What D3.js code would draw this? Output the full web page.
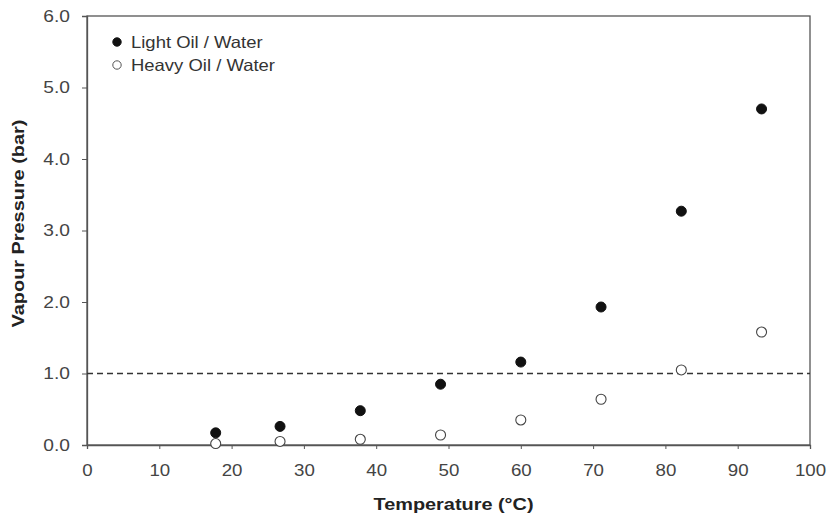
<!DOCTYPE html>
<html><head><meta charset="utf-8">
<script src="https://cdn.jsdelivr.net/npm/d3@7"></script>
<style>body{margin:0;background:#fff}</style>
</head><body>
<svg id="c" width="829" height="518"></svg>
<script>
const temps = [17.8, 26.7, 37.8, 48.9, 60.0, 71.1, 82.2, 93.3];
const lightOil = [0.17, 0.26, 0.48, 0.85, 1.16, 1.93, 3.27, 4.70];
const heavyOil = [0.02, 0.05, 0.08, 0.14, 0.35, 0.64, 1.05, 1.58];
const xTicks = [0,10,20,30,40,50,60,70,80,90,100];
const yTicks = [0,1,2,3,4,5,6];
const refLine = 1.0;
const legendLabels = ["Light Oil / Water", "Heavy Oil / Water"];

const svg = d3.select("#c");
const L=87, R=810, T=16, B=445;
const x = d3.scaleLinear().domain([0,100]).range([L,R]);
const y = d3.scaleLinear().domain([0,6]).range([B,T]);
const font = "Liberation Sans, Arial, sans-serif";
const axisCol = "#555";

function stretch(sel, sx){
  sel.each(function(){
    const t = d3.select(this);
    const tx = +t.attr("x")||0, ty = +t.attr("y")||0;
    t.attr("x",0).attr("y",0).attr("transform",`translate(${tx},${ty}) scale(${sx},1)`);
  });
}

// frame
svg.append("rect").attr("x",L).attr("y",T).attr("width",R-L).attr("height",B-T)
  .attr("fill","none").attr("stroke",axisCol).attr("stroke-width",1.3);

const xa = svg.append("g").attr("transform",`translate(0,${B})`)
  .call(d3.axisBottom(x).tickValues(xTicks).tickFormat(d3.format("d")).tickSize(4).tickPadding(15));
const ya = svg.append("g").attr("transform",`translate(${L},0)`)
  .call(d3.axisLeft(y).tickValues(yTicks).tickFormat(d3.format(".1f")).tickSize(5).tickPadding(12));
[xa,ya].forEach(g=>{
  g.select(".domain").attr("stroke",axisCol).attr("stroke-width",1.3);
  g.selectAll(".tick line").attr("stroke",axisCol);
  g.selectAll("text").attr("font-family",font).attr("font-size",17).attr("fill","#444");
});
stretch(xa.selectAll("text"),1.1);
stretch(ya.selectAll("text"),1.13);

// reference line
svg.append("line").attr("x1",L).attr("x2",R).attr("y1",y(refLine)).attr("y2",y(refLine))
  .attr("stroke","#333").attr("stroke-width",1.3).attr("stroke-dasharray","6,4");

// data
svg.append("g").selectAll("circle").data(temps.map((t,i)=>[t,heavyOil[i]])).join("circle")
  .attr("cx",d=>x(d[0])).attr("cy",d=>y(d[1])).attr("r",5)
  .attr("fill","#fff").attr("stroke","#444").attr("stroke-width",1.1);
svg.append("g").selectAll("circle").data(temps.map((t,i)=>[t,lightOil[i]])).join("circle")
  .attr("cx",d=>x(d[0])).attr("cy",d=>y(d[1])).attr("r",5)
  .attr("fill","#111").attr("stroke","#111");

// legend
const lg = svg.append("g");
legendLabels.forEach((lab,i)=>{
  const yy = 42 + i*23;
  lg.append("circle").attr("cx",117).attr("cy",yy).attr("r",4.2)
    .attr("fill", i===0?"#111":"#fff").attr("stroke", i===0?"#111":"#555").attr("stroke-width",1);
  lg.append("text").attr("x",131).attr("y",yy+6).text(lab)
    .attr("font-family",font).attr("font-size",16.5).attr("fill","#333");
});
stretch(lg.selectAll("text"),1.12);

// axis titles
const xt = svg.append("text").attr("x",(L+R)/2+5).attr("y",510).attr("text-anchor","middle")
  .attr("font-family",font).attr("font-size",17).attr("font-weight","bold").attr("fill","#222")
  .text("Temperature (°C)");
stretch(xt,1.17);
svg.append("g").attr("transform",`translate(24,${(T+B)/2-7}) rotate(-90)`)
  .append("text").attr("text-anchor","middle").attr("transform","scale(1.17,1)")
  .attr("font-family",font).attr("font-size",17).attr("font-weight","bold").attr("fill","#222")
  .text("Vapour Pressure (bar)");
</script>
</body></html>
